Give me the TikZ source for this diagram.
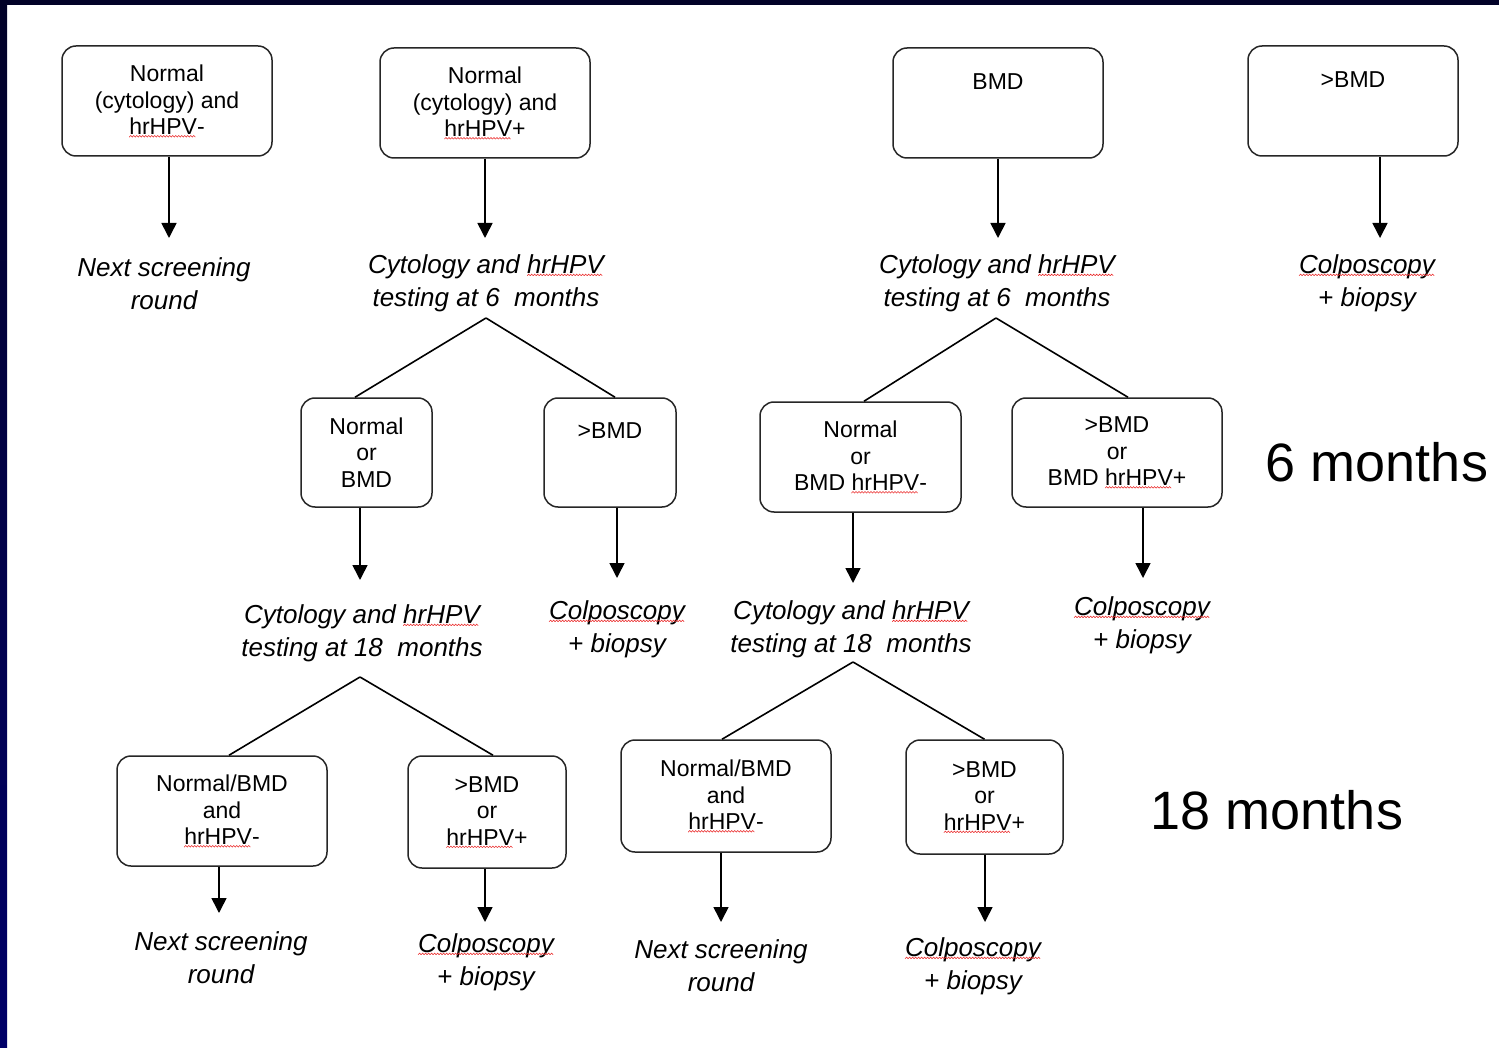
\documentclass[tikz,border=0pt]{standalone}
\usepackage{fontspec}
\setmainfont{Liberation Sans}
\usetikzlibrary{arrows.meta}

\definecolor{navytop}{RGB}{2,2,40}
\definecolor{navybot}{RGB}{0,0,104}
\definecolor{squigred}{RGB}{235,40,40}

% red spelling squiggle under a word
\newsavebox{\spellbox}
\newcommand{\zig}{\tikz[x=1pt, y=1pt, sharp corners, line width=0.55pt]{\path[use as bounding box, draw=none] (0,0) rectangle (3,1.6); \draw[squigred] (0,0) -- (1.5,1.6) -- (3,0);}}
\newcommand{\spell}[1]{\sbox{\spellbox}{#1}\rlap{\usebox{\spellbox}}\lower2.5pt\hbox to \wd\spellbox{\leaders\hbox{\zig}\hfill}}

\begin{document}
\begin{tikzpicture}[
            x = 1pt, y = -1pt, % pixel grid of the slide
            > = {Triangle[width=15pt, length=15pt]}, % arrow head style
            line width = 1.6pt % line style
        ]

        \tikzstyle{box}=[
            draw = black!85,
            line width = 1.5pt,
            rounded corners = 14pt,
            minimum width = 210pt,
            minimum height = 110pt,
            inner sep = 0pt,
            align = center,
            font = \fontsize{23}{26.5}\selectfont
        ]
        \tikzstyle{note}=[
            inner sep = 0pt,
            align = center,
            font = \fontsize{26}{33}\selectfont\itshape
        ]
        \tikzstyle{period}=[
            inner sep = 0pt,
            font = \fontsize{54}{60}\selectfont
        ]

        % slide background
        \useasboundingbox (0,0) rectangle (1499,1048);
        \fill[white] (0,0) rectangle (1499,1048);
        \shade[top color=navytop, bottom color=navybot] (0,0) rectangle (7,1048);
        \fill[navytop] (0,0) rectangle (1499,5);

        % first visit
        \node[box] (A1) at (167,101) {Normal\\(cytology) and\\\spell{hrHPV}-};
        \node[box] (A2) at (485,103) {Normal\\(cytology) and\\\spell{hrHPV}+};
        \node[box] (A3) at (998,103) {BMD\\[17pt]\mbox{}};
        \node[box] (A4) at (1353,101) {>BMD\\[17pt]\mbox{}};

        \node[note] (L1) at (164,284) {Next screening\\round};
        \node[note] (L2) at (486,283) {Cytology and \spell{hrHPV}\\testing at 6~ months};
        \node[note] (L3) at (997,283) {Cytology and \spell{hrHPV}\\testing at 6~ months};
        \node[note] (L4) at (1367,283) {\spell{Colposcopy}\\+ biopsy};

        \coordinate (t1) at (169,238);
        \coordinate (t2) at (485,238);
        \coordinate (t3) at (998,238);
        \coordinate (t4) at (1380,238);

        \path[->] (A1.south -| t1) edge (t1);
        \path[->] (A2.south -| t2) edge (t2);
        \path[->] (A3.south -| t3) edge (t3);
        \path[->] (A4.south -| t4) edge (t4);

        % 6 months
        \node[box, minimum width=131pt, minimum height=109pt] (B1) at (366.5,452.5) {Normal\\or\\BMD};
        \node[box, minimum width=132pt, minimum height=109pt] (B2) at (610,452.5) {>BMD\\[17pt]\mbox{}};
        \node[box, minimum width=201pt] (B3) at (860.5,457) {Normal\\or\\BMD \spell{hrHPV}-};
        \node[box, minimum height=109pt] (B4) at (1117,452.5) {>BMD\\or\\BMD \spell{hrHPV}+};

        \coordinate (f2) at (486,318);
        \coordinate (f3) at (996,318);
        \draw (f2) -- ([xshift=-11.5pt]B1.north);
        \draw (f2) -- ([xshift=5pt]B2.north);
        \draw (f3) -- ([xshift=3.5pt]B3.north);
        \draw (f3) -- ([xshift=11pt]B4.north);

        \node[period] (six) at (1377,462) {6 months};

        \node[note] (M1) at (362,633) {Cytology and \spell{hrHPV}\\testing at 18~ months};
        \node[note] (M2) at (617,629) {\spell{Colposcopy}\\+ biopsy};
        \node[note] (M3) at (851,629) {Cytology and \spell{hrHPV}\\testing at 18~ months};
        \node[note] (M4) at (1142,625) {\spell{Colposcopy}\\+ biopsy};

        \coordinate (u1) at (360,580);
        \coordinate (u2) at (617,578);
        \coordinate (u3) at (853,583);
        \coordinate (u4) at (1143,578);

        \path[->] (B1.south -| u1) edge (u1);
        \path[->] (B2.south -| u2) edge (u2);
        \path[->] (B3.south -| u3) edge (u3);
        \path[->] (B4.south -| u4) edge (u4);

        % 18 months
        \node[box] (C1) at (222,811) {Normal/BMD\\and\\\spell{hrHPV}-};
        \node[box, minimum width=158pt, minimum height=112pt] (C2) at (487,812) {>BMD\\or\\\spell{hrHPV}+};
        \node[box, minimum height=112pt] (C3) at (726,796) {Normal/BMD\\and\\\spell{hrHPV}-};
        \node[box, minimum width=157pt, minimum height=114pt] (C4) at (984.5,797) {>BMD\\or\\\spell{hrHPV}+};

        \coordinate (f5) at (360,677);
        \coordinate (f7) at (853,662);
        \draw (f5) -- ([xshift=7pt]C1.north);
        \draw (f5) -- ([xshift=6pt]C2.north);
        \draw (f7) -- ([xshift=-4pt]C3.north);
        \draw (f7) -- (C4.north);

        \node[period] (eighteen) at (1277,810) {18 months};

        \node[note] (N1) at (221,958) {Next screening\\round};
        \node[note] (N2) at (486,962) {\spell{Colposcopy}\\+ biopsy};
        \node[note] (N3) at (721,966) {Next screening\\round};
        \node[note] (N4) at (973,966) {\spell{Colposcopy}\\+ biopsy};

        \coordinate (v1) at (219,913);
        \coordinate (v2) at (485,922);
        \coordinate (v3) at (721,922);
        \coordinate (v4) at (985,922);

        \path[->] (C1.south -| v1) edge (v1);
        \path[->] (C2.south -| v2) edge (v2);
        \path[->] (C3.south -| v3) edge (v3);
        \path[->] (C4.south -| v4) edge (v4);

  \end{tikzpicture}
\end{document}
